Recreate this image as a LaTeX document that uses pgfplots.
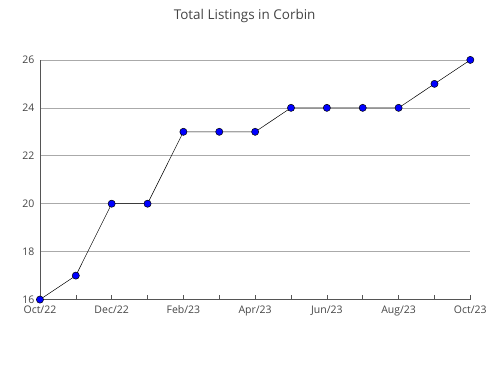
\documentclass[border=0pt]{standalone}
\usepackage{pgfplots}
\pgfplotsset{compat=1.18}
\usepackage{fontspec}
\setmainfont{Open Sans}
\definecolor{txt}{RGB}{68,68,68}
\definecolor{axc}{RGB}{85,85,85}
\definecolor{grd}{RGB}{170,170,170}
\begin{document}
\begin{tikzpicture}
\path (0pt,0pt) rectangle (490pt,380pt);
\node[anchor=center, text=txt, font=\fontsize{13.5}{15}\selectfont] at (245pt,364pt) {Total Listings in Corbin};
\begin{axis}[
  at={(40pt,80pt)}, anchor=south west,
  scale only axis, width=431pt, height=240pt,
  xmin=0, xmax=12, ymin=16, ymax=26,
  axis x line*=bottom, axis y line*=left,
  axis line style={axc, line width=0.8pt},
  xtick={0,...,12},
  xticklabels={Oct/22,,Dec/22,,Feb/23,,Apr/23,,Jun/23,,Aug/23,,Oct/23},
  ytick={16,18,20,22,24,26},
  minor ytick={17,19,21,23,25},
  tick align=inside,
  major tick length=5pt, minor tick length=4pt,
  ytick style={draw=none},
  minor tick style={draw=axc, line width=0.6pt},
  xtick style={axc, line width=0.6pt},
  ymajorgrids, major grid style={grd, line width=0.6pt},
  tick label style={text=txt, font=\fontsize{10.5}{12}\selectfont},
  /pgf/number format/assume math mode=true,
  xticklabel style={yshift=-2.5pt},
  yticklabel style={xshift=-2pt},
  clip=false,
]
\addplot[black, line width=0.5pt, mark=*, mark size=3.6pt, mark options={fill=blue, draw=black, line width=0.5pt}]
coordinates {(0,16) (1,17) (2,20) (3,20) (4,23) (5,23) (6,23) (7,24) (8,24) (9,24) (10,24) (11,25) (12,26)};
\end{axis}
\end{tikzpicture}
\end{document}
